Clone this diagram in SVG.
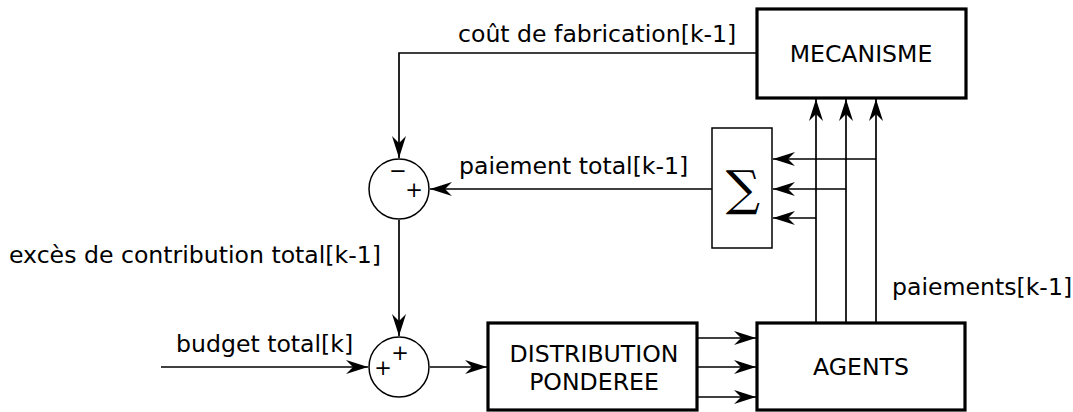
<svg xmlns="http://www.w3.org/2000/svg" width="1073" height="412" viewBox="0 0 1073 412">
<style>
.box{fill:#fff;stroke:#000;stroke-width:3.2}
.thin{fill:#fff;stroke:#000;stroke-width:1.5}
.ln{fill:none;stroke:#000;stroke-width:1.7}
.arr{marker-end:url(#ah)}
text{font-family:"DejaVu Sans",sans-serif;font-size:23.6px;fill:#000}
.c{text-anchor:middle}
.s{font-size:21px}
.sg{font-family:"DejaVu Serif",serif;font-size:48px}
</style>
<defs>
<marker id="ah" markerWidth="24" markerHeight="16" viewBox="-22 -8 24 16" refX="0" refY="0" orient="auto" markerUnits="userSpaceOnUse">
<path d="M0,0 L-22,-7 L-15,0 L-22,7 z" fill="#000"/>
</marker>
</defs>
<g id="connectors">
<path class="ln arr" d="M757,53 H399 V158"/>
<path class="ln arr" d="M712,189 H430"/>
<path class="ln arr" d="M399,220 V336"/>
<path class="ln arr" d="M161,367 H368"/>
<path class="ln arr" d="M430,367 H487"/>
<path class="ln arr" d="M697,338 H756"/>
<path class="ln arr" d="M697,367 H756"/>
<path class="ln arr" d="M697,397 H756"/>
<path class="ln arr" d="M816,322 V99"/>
<path class="ln arr" d="M846,322 V99"/>
<path class="ln arr" d="M876,322 V99"/>
<path class="ln arr" d="M876,159 H773"/>
<path class="ln arr" d="M846,189 H773"/>
<path class="ln arr" d="M816,218 H773"/>
</g>
<g id="mecanisme">
<rect class="box" x="757" y="9" width="209" height="89"/>
<text class="c" x="861" y="62">MECANISME</text>
</g>
<g id="sigma">
<rect class="thin" x="712" y="128" width="60" height="120"/>
<text class="c sg" x="743" y="205">∑</text>
</g>
<g id="sum1">
<circle class="thin" cx="399" cy="189" r="30"/>
<text class="c s" x="398" y="178">−</text>
<text class="c s" x="414" y="197">+</text>
</g>
<g id="sum2">
<circle class="thin" cx="399" cy="367" r="30"/>
<text class="c s" x="400" y="360">+</text>
<text class="c s" x="383" y="375">+</text>
</g>
<g id="distribution">
<rect class="box" x="488" y="323" width="209" height="87"/>
<text class="c" x="594" y="362">DISTRIBUTION</text>
<text class="c" x="594" y="390">PONDEREE</text>
</g>
<g id="agents">
<rect class="box" x="757" y="323" width="208" height="87"/>
<text class="c" x="861" y="375">AGENTS</text>
</g>
<g id="labels">
<text x="458" y="42">coût de fabrication[k-1]</text>
<text x="459" y="174">paiement total[k-1]</text>
<text x="9" y="263">excès de contribution total[k-1]</text>
<text x="176" y="352">budget total[k]</text>
<text x="892" y="295">paiements[k-1]</text>
</g>
</svg>
